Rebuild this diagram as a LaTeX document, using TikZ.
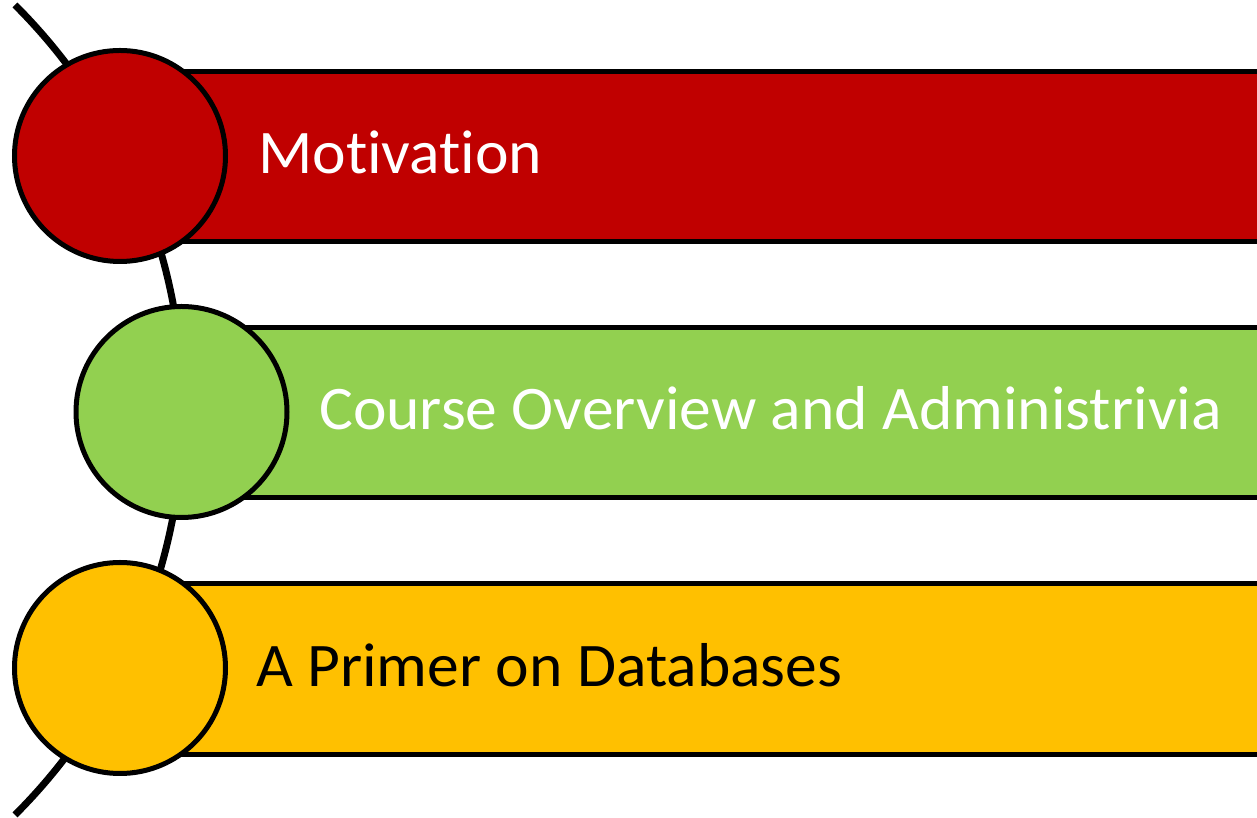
\documentclass[tikz,border=0pt]{standalone}
\usepackage{fontspec}
\setmainfont{Carlito}[FakeStretch=1.025, Ligatures=NoCommon]
\definecolor{cred}{HTML}{C00000}
\definecolor{cgreen}{HTML}{92D050}
\definecolor{cyellow}{HTML}{FFC000}
\tikzset{
  bullet/.style={circle, draw=black, line width=5pt, minimum size=211pt, inner sep=0pt},
  bar/.style={rectangle, draw=black, line width=5pt, minimum height=170.5pt, minimum width=1200pt, inner sep=0pt, anchor=west},
  label/.style={anchor=base west, inner sep=0pt, font=\fontsize{62}{72}\selectfont},
  spine/.style={draw=black, line width=7pt}
}
\begin{document}
\begin{tikzpicture}[x=1pt,y=1pt]
\useasboundingbox (0,0) rectangle (1257,818);
\clip (0,0) rectangle (1257,818);
% spine arc
\coordinate (stop) at (15,813);
\draw[spine] (stop) arc[start angle=45.08, end angle=-45.08, radius=571.9pt] coordinate (sbot);
% bars
\node[bar, fill=cred] (bar1) at (120,661.5) {};
\node[bar, fill=cgreen] (bar2) at (182,405.5) {};
\node[bar, fill=cyellow] (bar3) at (120,149) {};
% circles
\node[bullet, fill=cred] (c1) at (120,662) {};
\node[bullet, fill=cgreen] (c2) at (181.5,406) {};
\node[bullet, fill=cyellow] (c3) at (120,150) {};
% labels
\node[label, text=white] (t1) at (258,644.5) {Motivation};
\node[label, text=white] (t2) at (319,388) {Course Overview and Administrivia};
\node[label, text=black] (t3) at (256,131) {A Primer on Databases};
\end{tikzpicture}
\end{document}
